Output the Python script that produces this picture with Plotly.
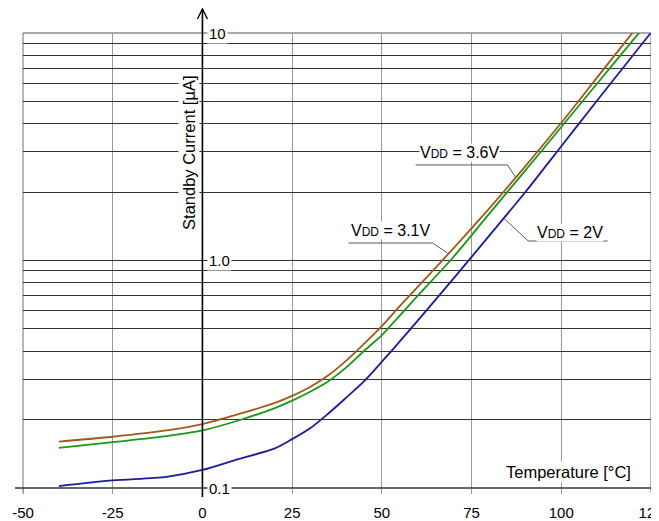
import plotly.graph_objects as go
import math

# ---- data ----
temps = [-40, -25, -10, 0, 10, 20, 25, 30, 35, 40, 45, 50, 55, 60, 70, 80, 90, 100, 110, 120, 125]
i_36 = [0.160, 0.168, 0.179, 0.191, 0.211, 0.236, 0.254, 0.278, 0.312, 0.362, 0.430, 0.515, 0.630, 0.765,
        1.134, 1.70, 2.60, 4.03, 6.38, 10.1, 12.7]
i_31 = [0.150, 0.159, 0.169, 0.179, 0.198, 0.224, 0.242, 0.265, 0.294, 0.338, 0.400, 0.470, 0.573, 0.700,
        1.039, 1.61, 2.49, 3.86, 6.00, 9.3, 11.6]
i_20 = [0.102, 0.108, 0.112, 0.120, 0.134, 0.149, 0.164, 0.183, 0.212, 0.249, 0.294, 0.359, 0.441, 0.544,
        0.834, 1.29, 2.00, 3.18, 5.05, 7.98, 10.04]

x_ticks = [-50, -25, 0, 25, 50, 75, 100, 125]
y_grid = [0.1, 0.2, 0.3, 0.4, 0.5, 0.6, 0.7, 0.8, 0.9,
          1, 2, 3, 4, 5, 6, 7, 8, 9, 10]
y_labels = [(10, "10"), (1, "1.0"), (0.1, "0.1")]

# page is offset by the browser's 8px body margin
OFF = 8
W, H = 659 - OFF, 521 - OFF
PW, PH = 628, 455
ML, MT = 23 - OFF, 33 - OFF
MR, MB = W - ML - PW, H - MT - PH

FONT = "Liberation Sans, Arial, sans-serif"

def fy(py):  # page pixel -> paper fraction
    return (MT + OFF + PH - py) / PH

def fx(px):
    return (px - ML - OFF) / PW

fig = go.Figure()

for name, vals, col in [("VDD = 3.6V", i_36, "#9c5a1c"),
                        ("VDD = 3.1V", i_31, "#1a961a"),
                        ("VDD = 2V", i_20, "#1c1c96")]:
    fig.add_trace(go.Scatter(x=temps, y=vals, mode="lines", name=name,
                             line=dict(color=col, width=1.8, shape="spline", smoothing=0.8),
                             showlegend=False, hoverinfo="skip"))

shapes = []
# frame gridlines at the plot edges
shapes.append(dict(type="line", xref="paper", yref="paper", x0=0, x1=0, y0=fy(493), y1=1,
                   line=dict(color="#999999", width=1.4), layer="below"))
shapes.append(dict(type="line", xref="paper", yref="paper", x0=1, x1=1, y0=fy(493), y1=1,
                   line=dict(color="#999999", width=1.4), layer="below"))
shapes.append(dict(type="line", xref="paper", yref="paper", x0=0, x1=1, y0=1, y1=1,
                   line=dict(color="#555555", width=1), layer="below"))
# axis lines with arrows
shapes.append(dict(type="line", xref="x", yref="paper", x0=0, x1=0, y0=fy(497), y1=fy(9),
                   line=dict(color="black", width=1.6), layer="above"))
shapes.append(dict(type="path", xref="x", xsizemode="pixel", xanchor=0,
                   yref="paper", ysizemode="pixel", yanchor=fy(9),
                   path="M -5,-10 L 0,0 L 5,-10", line=dict(color="black", width=1.4), layer="above"))
shapes.append(dict(type="line", xref="paper", yref="paper", x0=fx(15), x1=fx(661), y0=0, y1=0,
                   line=dict(color="#333333", width=1.6), layer="above"))
shapes.append(dict(type="path", xref="paper", xsizemode="pixel", xanchor=fx(661),
                   yref="paper", ysizemode="pixel", yanchor=0,
                   path="M -6,6 L 0,0 L -6,-6", line=dict(color="#333333", width=1.2), layer="above"))

# leader lines for curve labels (data coordinates)
leaders = [
    [(59.4, 2.63), (85.0, 2.63), (87.2, 2.33)],
    [(40.7, 1.194), (64.1, 1.194), (68.3, 1.079)],
    [(112.9, 1.218), (90.8, 1.218), (83.9, 1.537)],
]
for pts in leaders:
    for (xa, ya), (xb, yb) in zip(pts[:-1], pts[1:]):
        shapes.append(dict(type="line", xref="x", yref="y", x0=xa, y0=ya, x1=xb, y1=yb,
                           line=dict(color="#555555", width=1), layer="above"))

annotations = []
for v, t in y_labels:
    annotations.append(dict(x=0, y=math.log10(v), xref="x", yref="y", text=t, showarrow=False,
                            xanchor="left", yanchor="middle", xshift=5, bgcolor="white", borderpad=1,
                            font=dict(family=FONT, size=15, color="black")))

sub = "<span style='font-size:12px'>DD</span>"
for xt, yt, t in [(71.6, 2.97, "V" + sub + " = 3.6V"),
                  (52.3, 1.36, "V" + sub + " = 3.1V"),
                  (102.3, 1.33, "V" + sub + " = 2V")]:
    annotations.append(dict(x=xt, y=math.log10(yt), xref="x", yref="y", text=t, showarrow=False,
                            xanchor="center", yanchor="middle", bgcolor="white", borderpad=0,
                            font=dict(family=FONT, size=16, color="black")))

annotations.append(dict(x=0, xref="x", y=fy(152.5), yref="paper", text="Standby Current [µA]",
                        textangle=-90, showarrow=False, xanchor="center", yanchor="middle",
                        xshift=-14, bgcolor="white", borderpad=1,
                        font=dict(family=FONT, size=16.5, color="black")))
annotations.append(dict(x=fx(568.5), xref="paper", y=fy(472), yref="paper", text="Temperature [°C]",
                        showarrow=False, xanchor="center", yanchor="middle", bgcolor="white", borderpad=1,
                        font=dict(family=FONT, size=16.5, color="black")))

fig.update_layout(
    template="none",
    width=W, height=H, autosize=False,
    margin=dict(l=ML, r=MR, t=MT, b=MB, pad=0, autoexpand=False),
    paper_bgcolor="white", plot_bgcolor="white",
    shapes=shapes, annotations=annotations,
    xaxis=dict(range=[-50, 125], tickvals=x_ticks, ticktext=[str(v) for v in x_ticks],
               showgrid=True, gridcolor="#999999", gridwidth=1.4, zeroline=False, showline=False,
               ticks="outside", ticklen=5, tickcolor="#999999", tickwidth=1.4,
               ticklabelstandoff=6, automargin=False, ticklabeloverflow="allow",
               tickfont=dict(family=FONT, size=15, color="black")),
    yaxis=dict(type="log", range=[-1, 1], tickvals=y_grid, showticklabels=False,
               showgrid=True, gridcolor="#333333", gridwidth=1, zeroline=False, showline=False,
               ticks="", automargin=False),
)

fig.write_html("out.html")
